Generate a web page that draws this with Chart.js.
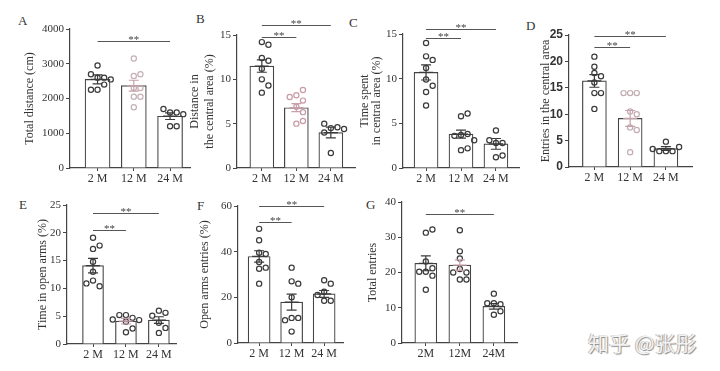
<!DOCTYPE html>
<html>
<head>
<meta charset="utf-8">
<script src="https://cdn.jsdelivr.net/npm/chart.js@4.4.1/dist/chart.umd.min.js"></script>
<style>
body { margin: 0; background: #fff; width: 720px; height: 371px; overflow: hidden; position: relative; }
canvas { position: absolute; left: 0; top: 0; }
.tag { position: absolute; font: 13px "Liberation Serif", serif; color: #333; line-height: 1; }
.wm { position: absolute; left: 588px; top: 332px; font: 21px "Noto Sans CJK SC", sans-serif; line-height: 1;
      color: #f2f2f2; text-shadow: 1px 1px 1px #8a8a8a, -1px 0 0 #bbb; white-space: nowrap; }
</style>
</head>
<body>
<div class="tag" style="left:18px;top:14px">A</div>
<div class="tag" style="left:196px;top:12px">B</div>
<div class="tag" style="left:349px;top:16px">C</div>
<div class="tag" style="left:526px;top:19px">D</div>
<div class="tag" style="left:19px;top:198px">E</div>
<div class="tag" style="left:197px;top:199px">F</div>
<div class="tag" style="left:366px;top:198px">G</div>
<div class="wm">知乎 @张彤</div>
<script>
// groups
const groups = ['2 M', '12 M', '24 M'];
const groupsG = ['2M', '12M', '24M'];

// A - total distance (cm)
const distMean = [2550, 2370, 1490];
const distSem = [130, 155, 95];
const dist2M = [2950, 2600, 2600, 2700, 2550, 2250, 2400, 2250];
const dist12M = [3150, 2650, 2700, 2050, 2050, 2300, 1750, 2300];
const dist24M = [1600, 1600, 1700, 1200, 1200, 1550];

// B - distance in the central area (%)
const cdistMean = [11.5, 6.8, 4.0];
const cdistSem = [0.7, 0.45, 0.6];
const cdist2M = [14.2, 13.9, 12.4, 12.1, 11.2, 10.0, 9.3, 8.5];
const cdist12M = [8.2, 8.8, 7.6, 8.0, 6.9, 5.0, 5.3, 6.3];
const cdist24M = [4.5, 4.6, 5.0, 4.4, 4.0, 1.7];

// C - time spent in central area (%)
const ctimeMean = [10.7, 3.8, 2.7];
const ctimeSem = [0.85, 0.45, 0.6];
const ctime2M = [12.5, 14.0, 12.1, 11.2, 9.9, 9.2, 8.5, 7.0];
const ctime12M = [5.8, 6.1, 3.7, 3.8, 3.6, 2.0, 2.2, 3.1];
const ctime24M = [4.2, 2.8, 2.8, 3.1, 1.2, 1.4];

// D - entries in the central area
const centMean = [16.3, 9.2, 3.5];
const centSem = [1.2, 1.5, 0.35];
const cent2M = [20.9, 19.0, 17.8, 17.2, 14.0, 14.0, 16.0, 11.0];
const cent12M = [14.0, 14.0, 14.0, 10.5, 10.0, 7.5, 7.0, 2.8];
const cent24M = [3.0, 3.0, 3.0, 3.8, 4.8, 3.4];

// E - time in open arms (%)
const openMean = [14.1, 4.1, 4.3];
const openSem = [1.3, 0.5, 0.6];
const open2M = [19.1, 17.1, 17.7, 14.8, 13.0, 11.4, 10.4, 10.9];
const open12M = [5.2, 4.7, 5.2, 2.1, 2.8, 4.0, 4.3, 4.4];
const open24M = [6.0, 5.6, 5.1, 3.8, 2.9, 2.0];

// F - open arms entries (%)
const oentMean = [37.9, 17.9, 21.5];
const oentSem = [2.5, 3.5, 1.5];
const oent2M = [50, 45, 39.5, 39, 35.5, 33, 32.5, 26];
const oent12M = [33, 27, 26, 20, 11, 11, 10, 5];
const oent24M = [27.5, 26, 22.5, 18.5, 18.5, 21];

// G - total entries
const totMean = [22.6, 22.1, 10.4];
const totSem = [2.1, 1.5, 0.8];
const tot2M = [31.3, 32.2, 23.1, 20.2, 21.2, 20.2, 19.1, 15.1];
const tot12M = [32, 26, 24, 18, 18, 21, 20, 20];
const tot24M = [14, 11.3, 11, 11.3, 8, 9];

const serif = '"Liberation Serif", "Times New Roman", serif';
const dark = '#3a3a3a';
const pink = '#c8a0aa';

const panels = [
  { labels: groups, mean: distMean, sem: distSem, points: [dist2M, dist12M, dist24M], max: 4000, step: 1000,
    title: 'Total distance (cm)', sig: [{ a: 0, b: 2, y: 3655 }],
    frame: { titleX: 30, lh: 1.2, axisX: 70, top: 29, bottom: 168, right: 190, xMin: -0.76, xMax: 2.55, barW: 25 },
    ptColor: [dark, '#c4b0b5', dark], errColor: [dark, pink, dark] },
  { labels: groups, mean: cdistMean, sem: cdistSem, points: [cdist2M, cdist12M, cdist24M], max: 15, step: 5,
    title: ['Distance in', 'the central area (%)'], sig: [{ a: 0, b: 2, y: 16.1 }, { a: 0, b: 1, y: 14.75 }],
    frame: { titleX: 195, lh: 1.25, axisX: 237, top: 35, bottom: 168, right: 355, xMin: -0.72, xMax: 2.7, barW: 24 },
    ptColor: [dark, '#c99aa6', dark], errColor: [dark, pink, dark] },
  { labels: groups, mean: ctimeMean, sem: ctimeSem, points: [ctime2M, ctime12M, ctime24M], max: 15, step: 5,
    title: ['Time spent', 'in central area (%)'], sig: [{ a: 0, b: 2, y: 15.55 }, { a: 0, b: 1, y: 14.55 }],
    frame: { titleX: 365, lh: 0.95, axisX: 403, top: 34, bottom: 168, right: 519, xMin: -0.66, xMax: 2.66, barW: 24 },
    ptColor: [dark, dark, dark], errColor: [dark, dark, dark] },
  { labels: groups, mean: centMean, sem: centSem, points: [cent2M, cent12M, cent24M], max: 25, step: 5,
    title: 'Entries in the central area', sig: [{ a: 0, b: 2, y: 24.8 }, { a: 0, b: 1, y: 22.7 }],
    frame: { titleX: 546, lh: 1.2, axisX: 569, top: 35, bottom: 167, right: 692, xMin: -0.71, xMax: 2.73, barW: 24 },
    ptColor: [dark, '#c2adb2', dark], errColor: [dark, pink, dark], boldTicks: true },
  { labels: groups, mean: openMean, sem: openSem, points: [open2M, open12M, open24M], max: 25, step: 5,
    title: 'Time in open arms (%)', sig: [{ a: 0, b: 2, y: 23.5 }, { a: 0, b: 1, y: 20.5 }],
    frame: { titleX: 43, lh: 1.2, axisX: 67, top: 205, bottom: 344, right: 176, xMin: -0.79, xMax: 2.52, barW: 21 },
    ptColor: [dark, dark, dark], errColor: [dark, pink, dark] },
  { labels: groups, mean: oentMean, sem: oentSem, points: [oent2M, oent12M, oent24M], max: 60, step: 20,
    title: 'Open arms entries (%)', sig: [{ a: 0, b: 2, y: 60 }, { a: 0, b: 1, y: 53 }],
    frame: { titleX: 205, lh: 1.2, axisX: 238, top: 206, bottom: 343, right: 343, xMin: -0.65, xMax: 2.58, barW: 22 },
    ptColor: [dark, dark, dark], errColor: [dark, dark, dark] },
  { labels: groupsG, mean: totMean, sem: totSem, points: [tot2M, tot12M, tot24M], max: 40, step: 10,
    title: 'Total entries', sig: [{ a: 0, b: 2, y: 36.6 }],
    frame: { titleX: 373, lh: 1.2, axisX: 402, top: 202, bottom: 343, right: 517, xMin: -0.7, xMax: 2.68, barW: 22 },
    ptColor: [dark, dark, dark], errColor: [dark, pink, dark] }
];

// spread the dots sideways so they don't sit on top of each other
const swarm = {
  id: 'swarm',
  afterDatasetsUpdate(chart) {
    const meta = chart.getDatasetMeta(1);
    const xs = chart.scales.x;
    const d = 6.6;
    const placed = {};
    meta.data.forEach((el, i) => {
      const raw = chart.data.datasets[1].data[i];
      const cx = xs.getPixelForValue(raw.x);
      const list = placed[raw.x] || (placed[raw.x] = []);
      const cands = [0, d, -d, 2 * d, -2 * d, 3 * d, -3 * d];
      let best = 0;
      for (const off of cands) {
        const ok = list.every(p => Math.hypot(p.x - (cx + off), p.y - el.y) >= d * 0.95);
        if (ok) { best = off; break; }
      }
      el.x = cx + best;
      list.push({ x: el.x, y: el.y });
    });
  }
};

function makePanel(p) {
  const cv = document.createElement('canvas');
  cv.width = 720;
  cv.height = 371;
  document.body.appendChild(cv);

  const f = p.frame;
  const titleSize = 12;
  const L = f.titleX - titleSize * f.lh / 2;
  const yW = f.axisX - L;
  const xH = 22;

  const pts = [];
  p.points.forEach((arr, i) => arr.forEach(v => pts.push({ x: i, y: v })));

  const extras = {
    id: 'extras',
    afterDatasetsDraw(chart) {
      const { ctx, scales: { x, y } } = chart;
      ctx.save();
      ctx.lineWidth = 1.2;
      // error bars (mean +- SEM)
      p.mean.forEach((m, i) => {
        const cx = x.getPixelForValue(i);
        const t = y.getPixelForValue(m + p.sem[i]);
        const b = y.getPixelForValue(m - p.sem[i]);
        const mm = y.getPixelForValue(m);
        ctx.strokeStyle = p.errColor[i];
        ctx.beginPath();
        ctx.moveTo(cx, t); ctx.lineTo(cx, b);
        ctx.moveTo(cx - 5, t); ctx.lineTo(cx + 5, t);
        ctx.moveTo(cx - 5, b); ctx.lineTo(cx + 5, b);
        ctx.moveTo(cx - 7, mm); ctx.lineTo(cx + 7, mm);
        ctx.stroke();
      });
      // significance lines
      ctx.strokeStyle = '#555';
      ctx.fillStyle = '#444';
      ctx.lineWidth = 1;
      ctx.font = '11px ' + serif;
      ctx.textAlign = 'center';
      ctx.textBaseline = 'alphabetic';
      p.sig.forEach(s => {
        const x1 = x.getPixelForValue(s.a);
        const x2 = x.getPixelForValue(s.b);
        const yy = Math.round(y.getPixelForValue(s.y)) + 0.5;
        ctx.beginPath();
        ctx.moveTo(x1, yy); ctx.lineTo(x2, yy);
        ctx.stroke();
        ctx.fillText('**', (x1 + x2) / 2, yy + 1);
      });
      ctx.restore();
    }
  };

  const tickFont = p.boldTicks
    ? { family: '"Liberation Sans", Arial, sans-serif', size: 12, weight: 'bold' }
    : { family: serif, size: 11 };

  new Chart(cv, {
    type: 'bar',
    data: {
      datasets: [
        {
          type: 'bar',
          data: p.mean.map((v, i) => ({ x: i, y: v })),
          backgroundColor: '#fff',
          borderColor: '#444',
          borderWidth: 1.2,
          barThickness: f.barW,
          order: 2
        },
        {
          type: 'scatter',
          data: pts,
          pointRadius: 2.6,
          pointBorderWidth: 1.2,
          pointBackgroundColor: 'rgba(255,255,255,0)',
          pointBorderColor: c => p.ptColor[c.raw ? c.raw.x : 0],
          order: 1
        }
      ]
    },
    options: {
      responsive: false,
      animation: false,
      devicePixelRatio: 1,
      layout: { padding: { left: L, top: f.top, right: 720 - f.right, bottom: 371 - f.bottom - xH } },
      plugins: { legend: { display: false }, tooltip: { enabled: false } },
      scales: {
        x: {
          type: 'linear',
          min: f.xMin,
          max: f.xMax,
          offset: false,
          afterBuildTicks: s => { s.ticks = p.labels.map((_, i) => ({ value: i })); },
          afterFit: s => { s.height = xH; },
          ticks: {
            callback: v => p.labels[v],
            font: { family: serif, size: 12 },
            color: '#333',
            padding: 1,
            maxRotation: 0,
            autoSkip: false
          },
          grid: { display: true, drawOnChartArea: false, offset: false, tickLength: 3, color: '#444' },
          border: { color: '#444', width: 1.2 }
        },
        y: {
          min: 0,
          max: p.max,
          afterFit: s => { s.width = yW; },
          ticks: { stepSize: p.step, callback: v => String(v), font: tickFont, color: '#333', padding: 2 },
          grid: { display: true, drawOnChartArea: false, tickLength: 4, color: '#444' },
          border: { color: '#444', width: 1.2 },
          title: {
            display: true,
            text: p.title,
            color: '#333',
            padding: 0,
            font: { family: serif, size: titleSize, lineHeight: f.lh }
          }
        }
      }
    },
    plugins: [swarm, extras]
  });
}

panels.forEach(makePanel);
</script>
</body>
</html>
